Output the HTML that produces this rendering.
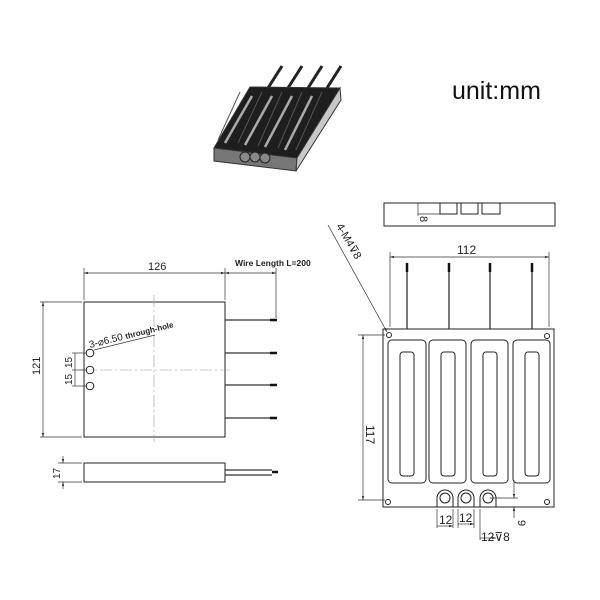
<!DOCTYPE html>
<html><head><meta charset="utf-8"><style>body{margin:0;background:#fff}svg{display:block}</style></head><body>
<svg width="600" height="600" viewBox="0 0 600 600" xmlns="http://www.w3.org/2000/svg" font-family="Liberation Sans, sans-serif">
<defs><marker id="a" viewBox="0 0 10 10" refX="10" refY="5" markerWidth="6" markerHeight="6" orient="auto-start-reverse"><path d="M0,2 L10,5 L0,8 z" fill="#333"/></marker></defs>
<!-- 3D view -->
<g>
<line x1="268" y1="88" x2="282" y2="66" stroke="#222" stroke-width="3"/>
<line x1="288" y1="88" x2="302" y2="66" stroke="#222" stroke-width="3"/>
<line x1="308" y1="88" x2="322" y2="66" stroke="#222" stroke-width="3"/>
<line x1="327" y1="88" x2="341" y2="66" stroke="#222" stroke-width="3"/>
<polygon points="250,87 340,88 297,158 214,148" fill="#1e1e1e" stroke="#333"/>
<polygon points="214,148 297,158 296,171 214,161" fill="#777" stroke="#333"/>
<polygon points="297,158 340,88 341,100 296,171" fill="#c8c8c8" stroke="#333"/>
<g stroke="#aaa" stroke-width="2.5" fill="none">
<line x1="252" y1="96" x2="225" y2="143"/><line x1="272" y1="96" x2="245" y2="145"/>
<line x1="292" y1="96" x2="265" y2="147"/><line x1="312" y1="96" x2="285" y2="150"/>
</g>
<g stroke="#555" fill="none"><line x1="240" y1="92" x2="218" y2="140"/><line x1="262" y1="92" x2="238" y2="143"/><line x1="282" y1="92" x2="258" y2="146"/><line x1="302" y1="92" x2="278" y2="148"/><line x1="322" y1="92" x2="296" y2="150"/></g>
<circle cx="245" cy="157" r="5" fill="#888" stroke="#222"/><circle cx="255" cy="157" r="5" fill="#888" stroke="#222"/><circle cx="265" cy="158" r="5" fill="#888" stroke="#222"/>
</g>
<text x="452" y="99" font-size="25" fill="#111">unit:mm</text>
<!-- left front view -->
<g stroke="#222" fill="none" stroke-width="1">
<rect x="84" y="302" width="141" height="135"/>
<rect x="84" y="463" width="141" height="19"/>
</g>
<g stroke="#999" stroke-width="0.6" stroke-dasharray="12,3,2,3"><line x1="154" y1="295" x2="154" y2="442"/><line x1="80" y1="370" x2="230" y2="370"/></g>
<g stroke="#333" stroke-width="1.2">
<line x1="225" y1="320" x2="270" y2="320"/><line x1="225" y1="353" x2="270" y2="353"/><line x1="225" y1="385" x2="270" y2="385"/><line x1="225" y1="418" x2="270" y2="418"/>
<line x1="225" y1="470" x2="272" y2="470"/><line x1="225" y1="475" x2="272" y2="475"/>
</g>
<g stroke="#111" stroke-width="2.5"><line x1="270" y1="320" x2="277" y2="320"/><line x1="270" y1="353" x2="277" y2="353"/><line x1="270" y1="385" x2="277" y2="385"/><line x1="270" y1="418" x2="277" y2="418"/><line x1="272" y1="472" x2="278" y2="472"/></g>
<g stroke="#333" stroke-width="0.7" fill="none">
<line x1="84" y1="300" x2="84" y2="268"/><line x1="225" y1="300" x2="225" y2="268"/><line x1="276" y1="318" x2="276" y2="268"/>
<line x1="84" y1="273" x2="225" y2="273" marker-start="url(#a)" marker-end="url(#a)"/>
<line x1="225" y1="273" x2="276" y2="273" marker-start="url(#a)" marker-end="url(#a)"/>
<line x1="82" y1="302" x2="40" y2="302"/><line x1="82" y1="437" x2="40" y2="437"/>
<line x1="43" y1="302" x2="43" y2="437" marker-start="url(#a)" marker-end="url(#a)"/>
<line x1="82" y1="463" x2="58" y2="463"/><line x1="82" y1="482" x2="58" y2="482"/>
<line x1="63" y1="456" x2="63" y2="463" marker-end="url(#a)"/><line x1="63" y1="489" x2="63" y2="482" marker-end="url(#a)"/>
<line x1="88" y1="353" x2="72" y2="353"/><line x1="88" y1="370" x2="72" y2="370"/><line x1="88" y1="386" x2="72" y2="386"/>
<line x1="75" y1="353" x2="75" y2="386"/>
<line x1="94" y1="350" x2="155" y2="335"/>
</g>
<circle cx="90" cy="353" r="3.8" fill="#fff" stroke="#222"/><circle cx="90" cy="370" r="3.8" fill="#fff" stroke="#222"/><circle cx="90" cy="386" r="3.8" fill="#fff" stroke="#222"/>
<g fill="#222" font-size="11">
<text x="148" y="270">126</text>
<text x="235" y="266" font-size="8.5" font-weight="bold">Wire Length L=200</text>
<text transform="translate(40,375) rotate(-90)">121</text>
<text transform="translate(72,368) rotate(-90)" font-size="10">15</text>
<text transform="translate(72,385) rotate(-90)" font-size="10">15</text>
<text transform="translate(60,479) rotate(-90)" font-size="10">17</text>
<text transform="translate(90,348) rotate(-14)" font-size="10">3-⌀6.50 <tspan font-weight="bold" font-size="8">through-hole</tspan></text>
</g>
<!-- right view -->
<g stroke="#222" fill="none" stroke-width="1">
<rect x="384" y="203" width="171" height="23"/>
<rect x="440" y="203" width="17" height="11"/><rect x="461" y="203" width="17" height="11"/><rect x="482" y="203" width="18" height="11"/>
<rect x="383" y="329" width="171" height="178"/>
<rect x="388" y="340" width="38" height="143" rx="4"/><rect x="429" y="340" width="37" height="143" rx="4"/><rect x="471" y="340" width="37" height="143" rx="4"/><rect x="513" y="340" width="37" height="143" rx="4"/>
<rect x="400" y="352" width="14" height="124" rx="3"/><rect x="441" y="352" width="14" height="124" rx="3"/><rect x="483" y="352" width="14" height="124" rx="3"/><rect x="525" y="352" width="14" height="124" rx="3"/>
<path d="M437,507 V498 A8,8 0 0 1 453,498 V507 M458,507 V498 A8,8 0 0 1 474,498 V507 M480,507 V498 A8,8 0 0 1 496,498 V507"/>
<circle cx="445" cy="498" r="5"/><circle cx="466" cy="498" r="5"/><circle cx="488" cy="498" r="5"/>
<circle cx="389" cy="335" r="2.5"/><circle cx="547" cy="336" r="2.5"/><circle cx="388" cy="502" r="2.5"/><circle cx="547" cy="502" r="2.5"/>
</g>
<g stroke="#333" stroke-width="1.3"><line x1="407" y1="266" x2="407" y2="329"/><line x1="449" y1="266" x2="449" y2="329"/><line x1="490" y1="266" x2="490" y2="329"/><line x1="532" y1="266" x2="532" y2="329"/></g>
<g stroke="#111" stroke-width="2.5"><line x1="407" y1="263" x2="407" y2="272"/><line x1="449" y1="263" x2="449" y2="272"/><line x1="490" y1="263" x2="490" y2="272"/><line x1="532" y1="263" x2="532" y2="272"/></g>
<g stroke="#333" stroke-width="0.7" fill="none">
<line x1="390" y1="327" x2="390" y2="252"/><line x1="549" y1="327" x2="549" y2="252"/>
<line x1="390" y1="257" x2="549" y2="257" marker-start="url(#a)" marker-end="url(#a)"/>
<line x1="385" y1="335" x2="358" y2="335"/><line x1="385" y1="500" x2="358" y2="500"/>
<line x1="363" y1="335" x2="363" y2="500" marker-start="url(#a)" marker-end="url(#a)"/>
<line x1="328" y1="225" x2="387" y2="332" marker-end="url(#a)"/>
<line x1="418" y1="203" x2="418" y2="216"/><line x1="418" y1="214" x2="440" y2="214"/>
<line x1="437" y1="509" x2="437" y2="528"/><line x1="453" y1="509" x2="453" y2="528"/><line x1="458" y1="509" x2="458" y2="528"/><line x1="474" y1="509" x2="474" y2="528"/><line x1="480" y1="509" x2="480" y2="540"/>
<line x1="437" y1="526" x2="453" y2="526" marker-end="url(#a)"/><line x1="458" y1="524" x2="474" y2="524" marker-end="url(#a)"/>
<line x1="480" y1="538" x2="496" y2="538" marker-end="url(#a)"/>
<line x1="490" y1="498" x2="518" y2="498"/><line x1="514" y1="480" x2="514" y2="498" marker-end="url(#a)"/><line x1="514" y1="518" x2="514" y2="507" marker-end="url(#a)"/>
</g>
<g fill="#222" font-size="12">
<text x="457" y="254">112</text>
<text transform="translate(366,425) rotate(90)">117</text>
<text transform="translate(420,216) rotate(90)" font-size="11">8</text>
<text transform="translate(336,226) rotate(60)" font-size="11">4-M4⊽8</text>
<text x="439" y="524">12</text><text x="459" y="522">12</text><text x="481" y="541">12⊽8</text>
<text transform="translate(518,520) rotate(90)" font-size="11">9</text>
</g>
</svg>
</body></html>
